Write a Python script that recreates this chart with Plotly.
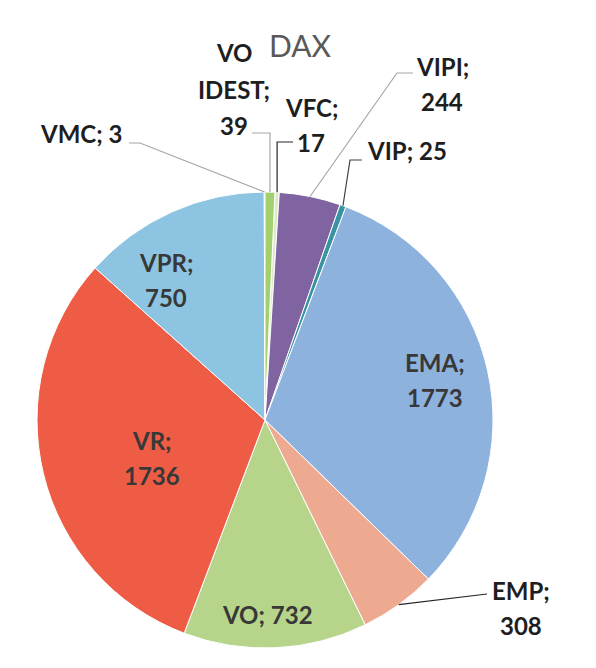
import math
import plotly.graph_objects as go

# Slice data, in drawing order (clockwise from the top)
labels = ["VFC", "VIPI", "VIP", "EMA", "EMP", "VO", "VR", "VPR", "VMC", "VO IDEST"]
values = [17, 244, 25, 1773, 308, 732, 1736, 750, 3, 39]
colors = ["#DDEBC8", "#8064A2", "#3A93A3", "#8EB2DE", "#EEAA91",
          "#B7D58A", "#EE5C46", "#8CC4E2", "#F2F5F8", "#A3D06E"]
title = "DAX"

W, H = 596, 668
CX, CY, R = 265, 420, 228          # pie centre and radius in pixels
ROTATION = 2.5                     # start angle of the first slice

def px(x, y):
    """pixel position -> paper coordinates"""
    return x / W, 1 - y / H

# label placement: how the text wraps, where its centre sits, leader polyline
label_style = {
    "VFC":      dict(wrap=2, at=(311, 125), leader=[(293, 142), "ax"], lc="#262626"),
    "VIPI":     dict(wrap=2, at=(442, 84), leader=[(413, 73), (397, 73)], lc="#A6A6A6"),
    "VIP":      dict(wrap=1, at=(407, 150), leader=[(362, 160), (350, 160)], lc="#404040"),
    "EMA":      dict(wrap=2, at=(435, 380)),
    "EMP":      dict(wrap=2, at=(521, 608), leader=[(487, 594)], lc="#262626"),
    "VO":       dict(wrap=1, at=(267, 614)),
    "VR":       dict(wrap=2, at=(152, 458)),
    "VPR":      dict(wrap=2, at=(166, 280)),
    "VMC":      dict(wrap=1, at=(81, 133), leader=[(129, 143), (140, 143)], lc="#A6A6A6"),
    "VO IDEST": dict(wrap=3, at=(234, 89), leader=[(252, 133), "ax"], lc="#A6A6A6"),
}
LINE_GAP = 35

fig = go.Figure(go.Pie(
    labels=labels,
    values=values,
    sort=False,
    direction="clockwise",
    rotation=ROTATION,
    marker=dict(colors=colors, line=dict(color="white", width=1)),
    textinfo="none",
    hoverinfo="label+value",
    showlegend=False,
    domain=dict(x=[(CX - R) / W, (CX + R) / W],
                y=[(H - CY - R) / H, (H - CY + R) / H]),
))

total = sum(values)
cum = 0
annotations = []
shapes = []
for name, val in zip(labels, values):
    mid = math.radians(ROTATION + (cum + val / 2) / total * 360)
    cum += val
    ax = CX + R * math.sin(mid)
    ay = CY - R * math.cos(mid)

    st = label_style[name]
    if st["wrap"] == 1:
        lines = [f"{name}; {val}"]
    elif st["wrap"] == 2:
        lines = [f"{name};", f"{val}"]
    else:
        first, rest = name.split(" ", 1)
        lines = [first, f"{rest};", f"{val}"]

    inside = "leader" not in st
    tx, ty = st["at"]
    n = len(lines)
    for i, line in enumerate(lines):
        ly = ty + (i - (n - 1) / 2) * (LINE_GAP + (2 if n == 3 else 0))
        x, y = px(tx, ly)
        annotations.append(dict(
            x=x, y=y, xref="paper", yref="paper", text=line, showarrow=False,
            xanchor="center", yanchor="middle",
            font=dict(family="Lato", size=24, weight="bold",
                      color="#383838" if inside else "#1E1E1E"),
        ))

    if not inside:
        pts = []
        for p in st["leader"]:
            if p == "ax":
                pts.append((ax, pts[-1][1]))
            else:
                pts.append(p)
        pts.append((ax, ay))
        path = "M " + " L ".join(
            f"{px(x, y)[0]:.5f},{px(x, y)[1]:.5f}" for x, y in pts)
        shapes.append(dict(type="path", path=path, xref="paper", yref="paper",
                           line=dict(color=st["lc"], width=1.2)))

# chart title
tx, ty = px(300, 45)
annotations.append(dict(x=tx, y=ty, xref="paper", yref="paper", text=title,
                        showarrow=False, xanchor="center", yanchor="middle",
                        font=dict(family="Lato", size=30, color="#595959")))

fig.update_layout(
    width=W, height=H,
    margin=dict(l=0, r=0, t=0, b=0),
    paper_bgcolor="white",
    plot_bgcolor="white",
    annotations=annotations,
    shapes=shapes,
)

fig.write_html("out.html")
